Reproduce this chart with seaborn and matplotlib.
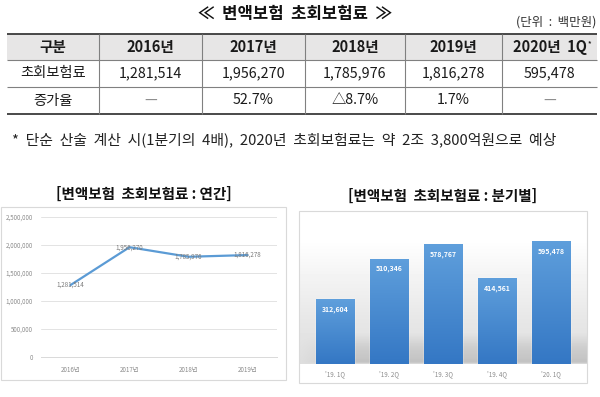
import numpy as np
import pandas as pd
import matplotlib
matplotlib.use("Agg")
import matplotlib.pyplot as plt
from matplotlib.colors import LinearSegmentedColormap
from matplotlib.patches import Rectangle
import seaborn as sns

# ---------------- data ----------------
table_title = "≪  변액보험  초회보험료  ≫"
unit_label = "(단위  :  백만원)"
col_headers = ["구분", "2016년", "2017년", "2018년", "2019년", "2020년  1Q"]
row_premium = ["초회보험료", "1,281,514", "1,956,270", "1,785,976", "1,816,278", "595,478"]
row_growth = ["증가율", "—", "52.7%", "△8.7%", "1.7%", "—"]
note_text = "*  단순  산술  계산  시(1분기의  4배),  2020년  초회보험료는  약  2조  3,800억원으로  예상"

annual_title = "[변액보험  초회보험료 : 연간]"
annual_years = ["2016년", "2017년", "2018년", "2019년"]
annual_values = [1281514, 1956270, 1785976, 1816278]
annual_yticks = [0, 500000, 1000000, 1500000, 2000000, 2500000]

quarter_title = "[변액보험  초회보험료 : 분기별]"
quarter_labels = ["'19. 1Q", "'19. 2Q", "'19. 3Q", "'19. 4Q", "'20. 1Q"]
quarter_values = [312604, 510346, 578767, 414561, 595478]

# ---------------- setup ----------------
sns.set_theme(style="white")
plt.rcParams['font.family'] = ['Noto Sans CJK KR', 'DejaVu Sans']

W, H = 600, 397
fig = plt.figure(figsize=(6, 3.97), dpi=100)
fig.patch.set_facecolor("white")

bg = fig.add_axes([0, 0, 1, 1], zorder=0)
bg.set_xlim(0, W)
bg.set_ylim(H, 0)
bg.axis('off')

# ---------------- top title & table ----------------
bg.text(295, 13.5, table_title, ha='center', va='center', fontsize=12,
        fontweight='bold', color='#111111')
bg.text(596, 22.5, unit_label, ha='right', va='center', fontsize=9, color='#333333')

xb = [7, 99, 201.5, 305, 405, 502, 597]
yb = [33.5, 60, 87, 114]
bg.add_patch(Rectangle((xb[0], yb[0]), xb[-1] - xb[0], yb[1] - yb[0],
                       facecolor='#e7e6e6', edgecolor='none', zorder=0))
bg.hlines([yb[0], yb[3]], xb[0], xb[-1], color='#3a3a3a', lw=1.3, zorder=2)
bg.hlines([yb[1], yb[2]], xb[0], xb[-1], color='#808080', lw=0.8, zorder=2)
bg.vlines(xb[1:-1], yb[0], yb[3], color='#808080', lw=0.8, zorder=2)

rows = [(col_headers, 'bold', 10.5), (row_premium, 'normal', 10.3), (row_growth, 'normal', 10.3)]
for r, (row, weight, fs) in enumerate(rows):
    yc = (yb[r] + yb[r + 1]) / 2
    for c, s in enumerate(row):
        xc = (xb[c] + xb[c + 1]) / 2
        col = '#8a8a8a' if s == "—" else '#1a1a1a'
        t = bg.text(xc, yc, s, ha='center', va='center', fontsize=fs,
                    fontweight=weight, color=col, zorder=3)
        if r == 0 and c == len(row) - 1:
            bg.annotate("*", xy=(1, 1), xycoords=t, xytext=(1, -1),
                        textcoords='offset points', ha='left', va='top',
                        fontsize=5, fontweight='bold', color='#1a1a1a')

bg.text(12, 140, note_text, ha='left', va='center', fontsize=10.7, color='#222222')

# ---------------- left chart: annual line ----------------
bg.text(143.5, 194, annual_title, ha='center', va='center', fontsize=10.5,
        fontweight='bold', color='#111111')
bg.add_patch(Rectangle((0.5, 207), 285, 173, fill=False, edgecolor='#d9d9d9', lw=0.8))

ax1 = fig.add_axes([41 / W, 1 - 357 / H, 236 / W, (357 - 216.7) / H], zorder=2)
ax1.patch.set_alpha(0)
df1 = pd.DataFrame({"year": annual_years, "value": annual_values})
sns.lineplot(data=df1, x="year", y="value", ax=ax1, color="#5B9BD5", lw=1.6, sort=False)
ax1.set_xlim(-0.5, len(annual_years) - 0.5)
ax1.set_ylim(annual_yticks[0], annual_yticks[-1])
ax1.set_yticks(annual_yticks)
ax1.set_yticklabels([f"{v:,}" for v in annual_yticks])
ax1.yaxis.grid(True, color='#e3e3e3', lw=0.7)
ax1.xaxis.grid(False)
ax1.tick_params(axis='y', labelsize=4.5, colors='#8c8c8c', length=0, pad=5.8)
ax1.tick_params(axis='x', labelsize=4.5, colors='#8c8c8c', length=0, pad=6.5)
ax1.set_xlabel("")
ax1.set_ylabel("")
for side in ['left', 'right', 'top']:
    ax1.spines[side].set_visible(False)
ax1.spines['bottom'].set_color('#d9d9d9')
ax1.spines['bottom'].set_linewidth(0.7)
for i, v in enumerate(annual_values):
    ax1.text(i, v, f"{v:,}", ha='center', va='center', fontsize=4.5, color='#7a7a7a')

# ---------------- right chart: quarterly bars ----------------
bg.text(443, 196, quarter_title, ha='center', va='center', fontsize=10.5,
        fontweight='bold', color='#111111')

ys = np.arange(211, 383) + 0.5
xs = np.arange(299, 587) + 0.5
base = np.interp(ys, [211, 240, 280, 320, 345, 363.5, 364.5, 383],
                 [1.0, 1.0, 0.95, 0.905, 0.885, 0.87, 1.0, 1.0])
shadow = np.interp(ys, [333, 348, 362, 364], [0, 0.08, 0.11, 0])
hfade = np.interp(xs, [299, 318, 345, 587], [0, 0.3, 1, 1])
img = base[:, None] - shadow[:, None] * hfade[None, :]
bg.imshow(img, cmap='gray', vmin=0, vmax=1, extent=(299, 587, 383, 211),
          origin='upper', aspect='auto', zorder=0, interpolation='bilinear')
bg.add_patch(Rectangle((299, 211), 288, 172, fill=False, edgecolor='#d9d9d9', lw=0.8, zorder=1))
bg.set_xlim(0, W)
bg.set_ylim(H, 0)

ax2 = fig.add_axes([308 / W, 1 - 364 / H, 270 / W, (364 - 229.7) / H], zorder=2)
ax2.patch.set_alpha(0)
df2 = pd.DataFrame({"quarter": quarter_labels, "value": quarter_values})
sns.barplot(data=df2, x="quarter", y="value", ax=ax2, color="#4a8bd3",
            saturation=1, width=0.71)
ax2.set_xlim(-0.5, len(quarter_labels) - 0.5)
ax2.set_ylim(0, 650000)

grad = np.linspace(0, 1, 256).reshape(-1, 1)
cmap_bar = LinearSegmentedColormap.from_list("bar", ["#3477c4", "#5f9fdc"])
for p in list(ax2.patches):
    x0, w, h = p.get_x(), p.get_width(), p.get_height()
    im = ax2.imshow(grad, cmap=cmap_bar, origin='lower', extent=(x0, x0 + w, 0, h),
                    aspect='auto', zorder=p.get_zorder() + 0.1)
    im.set_clip_path(p)
ax2.set_xlim(-0.5, len(quarter_labels) - 0.5)
ax2.set_ylim(0, 650000)

for i, v in enumerate(quarter_values):
    ax2.annotate(f"{v:,}", (i, v), xytext=(0, -7.3), textcoords='offset points',
                 ha='center', va='center', color='white', fontsize=5,
                 fontweight='bold', zorder=5)

ax2.set_yticks([])
ax2.set_xlabel("")
ax2.set_ylabel("")
ax2.tick_params(axis='x', labelsize=4.5, colors='#8c8c8c', length=0, pad=4.3)
for side in ax2.spines:
    ax2.spines[side].set_visible(False)

fig.savefig("out.png", dpi=100)
